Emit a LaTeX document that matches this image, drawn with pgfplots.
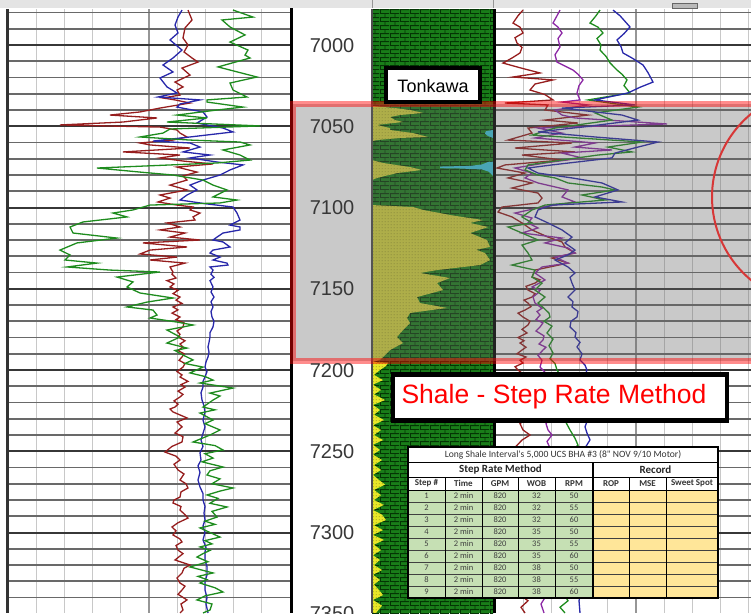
\documentclass[border=0pt]{standalone}
\usepackage{pgfplots}
\pgfplotsset{compat=1.18}
\usetikzlibrary{patterns.meta}
\usepackage{fontspec}
\setmainfont{Liberation Sans}
\newfontfamily\tablefont{Carlito}

\definecolor{gridlight}{RGB}{200,200,200}
\definecolor{gridmid}{RGB}{150,150,150}
\definecolor{griddark}{RGB}{105,105,105}
\definecolor{gridbold}{RGB}{55,55,55}
\definecolor{topband}{RGB}{228,228,228}
\definecolor{lithogreen}{RGB}{25,125,25}
\definecolor{brickline}{RGB}{4,52,4}
\definecolor{sandyellow}{RGB}{214,214,60}
\definecolor{sanddot}{RGB}{150,150,35}
\definecolor{sandbright}{RGB}{232,232,40}
\definecolor{limecyan}{RGB}{60,200,225}
\definecolor{logred}{RGB}{150,30,30}
\definecolor{logblue}{RGB}{40,40,170}
\definecolor{loggreen}{RGB}{30,140,30}
\definecolor{logpurple}{RGB}{140,40,165}
\definecolor{depthtext}{RGB}{55,55,55}
\definecolor{cellgreen}{RGB}{198,224,180}
\definecolor{cellyellow}{RGB}{255,230,153}
\definecolor{ringred}{RGB}{215,55,55}
\definecolor{shadegray}{RGB}{100,100,100}

% shale: green bricks; sand: dotted yellow
\tikzdeclarepattern{
  name=lithobricks,
  type=uncolored,
  bounding box={(0pt,0pt) and (10pt,8.4pt)},
  tile size={(10pt,8.4pt)},
  code={
    \draw[line width=1pt] (0pt,0.5pt) -- (10pt,0.5pt);
    \draw[line width=1pt] (0pt,4.7pt) -- (10pt,4.7pt);
    \draw[line width=0.9pt] (0.5pt,0.5pt) -- (0.5pt,4.7pt);
    \draw[line width=0.9pt] (5.5pt,4.7pt) -- (5.5pt,8.4pt);
  }
}
\tikzdeclarepattern{
  name=sanddots,
  type=uncolored,
  bounding box={(0pt,0pt) and (3pt,2.8pt)},
  tile size={(3pt,2.8pt)},
  code={\fill (1.5pt,1.4pt) circle [radius=0.6pt];}
}

\begin{document}
\begin{tikzpicture}[x=1pt,y=-1pt]
\useasboundingbox (0,0) rectangle (751,613);
\clip (0,0) rectangle (751,613);

% header strip
\fill[topband] (0,0) rectangle (751,8);
\draw[gridmid, line width=1pt] (372,0) -- (372,8);
\draw[gridmid, line width=1pt] (493,0) -- (493,8);
\filldraw[fill=gray!55, draw=gray!80!black, line width=0.6pt] (672,3) rectangle (697,8.5);

% track grids
\foreach \i in {1,...,9}{
  \pgfmathsetmacro{\xl}{8+28.2*\i}
  \pgfmathsetmacro{\xr}{495+28.2*\i}
  \ifnum\i=5 \def\vc{gridmid}\else \def\vc{gridlight}\fi
  \draw[color=\vc, line width=1.3pt] (\xl,9) -- (\xl,613);
  \draw[color=\vc, line width=1.3pt] (\xr,9) -- (\xr,613);
}
\foreach \dep in {6980,6990,...,7340}{
  \pgfmathsetmacro{\yy}{45+(\dep-7000)*1.625}
  \pgfmathtruncatemacro{\m}{mod(\dep,50)}
  \ifnum\m=0 \def\gc{gridbold}\def\gw{2pt}\else \def\gc{griddark}\def\gw{1.6pt}\fi
  \draw[color=\gc, line width=\gw] (8,\yy) -- (290,\yy);
  \draw[color=\gc, line width=\gw] (495,\yy) -- (751,\yy);
}

% lithology column background (shale)
\fill[lithogreen] (372,9) rectangle (493,613);
\fill[pattern=lithobricks, pattern color=brickline] (372,9) rectangle (493,613);

\begin{axis}[at={(0,0)}, anchor=north west, scale only axis,
  width=751pt, height=613pt, xmin=0, xmax=751,
  ymin=6972.31, ymax=7349.54, y dir=reverse, hide axis, no markers]

% ---- lithology: sand and limestone streaks
\addplot[draw=none, fill=sandyellow, postaction={pattern=sanddots, pattern color=sanddot}] coordinates {
(372,7037.5)(395,7038.8)(410,7040.0)(423,7041.8)(400,7043.1)(390,7044.3)(395,7046.2)(403,7047.4)
(385,7048.6)(377,7049.2)(390,7051.1)(390,7052.3)(413,7054.2)(428,7056.6)(400,7057.2)(377,7058.5)(372,7059.1)};
\addplot[draw=none, fill=sandyellow, postaction={pattern=sanddots, pattern color=sanddot}] coordinates {
(372,7070.8)(383,7072.6)(410,7075.1)(422,7076.9)(397,7078.8)(385,7080.6)(377,7081.8)(372,7083.1)};
\addplot[draw=none, fill=sandyellow, postaction={pattern=sanddots, pattern color=sanddot}] coordinates {
(372,7098.5)(413,7099.7)(423,7101.5)(450,7104.6)(462,7105.8)(483,7107.7)(470,7109.5)(488,7112.0)
(470,7115.7)(487,7120.0)(490,7124.3)(476,7126.0)(485,7128.0)(490,7132.3)(480,7135.4)(437,7138.5)
(420,7140.3)(450,7143.4)(437,7146.5)(443,7150.8)(417,7155.1)(420,7158.8)(447,7161.8)(410,7164.9)
(407,7168.0)(410,7171.1)(403,7175.4)(397,7179.7)(403,7183.4)(390,7187.7)(383,7192.0)(380,7193.8)(372,7195.1)};
\addplot[draw=none, fill=sandbright, postaction={pattern=sanddots, pattern color=sanddot}] coordinates {
(372,7195.1)(388,7195.5)(386,7197.5)(380,7200.0)(374,7203.0)(383,7206.2)(373,7209.0)(381,7212.3)
(374,7215.0)(385,7218.5)(373,7221.5)(380,7224.6)(374,7227.5)(384,7230.8)(373,7234.0)(381,7236.9)
(374,7240.0)(383,7243.1)(373,7246.0)(380,7249.2)(373,7252.0)(382,7255.4)(374,7258.5)(381,7261.5)
(373,7264.5)(379,7267.7)(385,7270.5)(374,7273.8)(381,7277.0)(374,7280.0)(384,7283.0)(373,7286.2)
(382,7289.0)(386,7292.3)(374,7295.5)(383,7298.5)(373,7301.5)(384,7304.6)(374,7307.5)(381,7310.8)
(373,7314.0)(380,7316.9)(374,7320.0)(382,7323.1)(373,7326.0)(380,7329.2)(374,7332.0)(379,7335.4)
(383,7338.5)(373,7341.5)(382,7345.0)(376,7349.5)(372,7349.5)};
\addplot[draw=none, fill=limecyan] coordinates {
(440,7074.8)(470,7074.4)(482,7073.5)(488,7072.0)(493,7071.8)(493,7080.6)(489,7078.0)(482,7076.6)(460,7076.0)(440,7075.8)};
\addplot[draw=none, fill=limecyan] coordinates {
(486,7053.0)(493,7052.3)(493,7057.2)(488,7056.0)(485,7054.5)};

% ---- left track
\addplot[color=logred, line width=1.3pt] coordinates {
(188,6978.5)(192,6984.6)(185,6989.5)(183,6995.7)(188,7000)(184,7004.3)(192,7008.0)(198,7010.5)
(182,7014.2)(190,7018.5)(175,7022.8)(183,7025.8)(177,7027.7)(180,7030.8)(163,7032.6)(175,7033.8)
(190,7035.7)(160,7038.8)(140,7041.2)(110,7043.1)(157,7044.9)(123,7047.4)(60,7049.2)(160,7050.5)
(177,7052.3)(180,7054.2)(187,7056.6)(173,7058.5)(140,7060.3)(150,7061.5)(190,7063.4)(123,7065.8)
(180,7067.7)(160,7069.5)(183,7071.4)(213,7073.2)(177,7075.1)(197,7078.2)(183,7080.6)(187,7083.1)
(170,7086.2)(187,7089.2)(160,7092.3)(170,7094.2)(158,7096.6)(177,7098.5)(193,7099.7)(190,7101.5)
(200,7103.4)(193,7105.8)(195,7107.7)(167,7109.5)(180,7112.0)(160,7113.8)(185,7115.7)(170,7118.2)
(200,7120.0)(143,7121.8)(187,7124.3)(150,7126.2)(140,7128.6)(177,7130.5)(150,7132.3)(185,7134.2)
(170,7136.6)(173,7139.7)(172,7141)(176,7143.4)(167,7145)(174,7147)(170,7148.9)(178,7151)(173,7153)
(180,7155.1)(176,7157)(182,7159)(173,7161.2)(178,7163)(172,7165)(180,7167.4)(176,7169)(184,7171)
(183,7173.5)(177,7176)(180,7178)(178,7179.7)(185,7182)(180,7184)(183,7185.8)(178,7188)(184,7190)
(182,7192)(179,7194)(185,7196)(183,7198.2)(177,7201)(182,7203)(180,7204.3)(188,7207)(181,7209)
(185,7210.5)(178,7213)(183,7215)(180,7216.6)(174,7219)(178,7221)(175,7222.8)(170,7224)(173,7225.8)
(187,7229.5)(177,7232)(182,7235)(175,7238.8)(183,7241)(182,7244.3)(172,7247)(165,7250.5)(176,7253)
(180,7255.4)(174,7258)(178,7261.5)(184,7264)(180,7267.7)(186,7270)(188,7272.6)(181,7275)(180,7278.2)
(174,7280)(173,7281.8)(181,7284)(180,7286.2)(185,7289)(188,7291.1)(178,7294)(172,7296.6)(176,7299)
(173,7301.5)(180,7304)(182,7305.8)(176,7308)(178,7310.8)(183,7313)(175,7316.9)(190,7320.0)(184,7322)
(182,7324.9)(177,7328)(180,7331.1)(185,7333)(182,7335.4)(178,7338)(187,7341.5)(181,7344)(183,7347.7)(180,7349.5)};
\addplot[color=logblue, line width=1.3pt] coordinates {
(182,6978.5)(178,6982.8)(175,6987.7)(178,6992.6)(170,6996.9)(176,7000)(182,7003.1)(173,7008.0)
(163,7012.3)(173,7016.6)(160,7020.3)(167,7025.8)(177,7029.5)(158,7032.0)(200,7033.8)(180,7036.3)
(177,7038.2)(203,7041.2)(207,7044.3)(197,7048.0)(223,7051.1)(233,7053.5)(190,7056.6)(153,7059.1)
(190,7060.3)(200,7062.8)(183,7065.8)(210,7067.7)(190,7069.5)(217,7072.0)(243,7073.8)(230,7076.9)
(220,7080.0)(203,7083.1)(190,7086.2)(197,7089.2)(187,7092.3)(180,7095.4)(207,7097.8)(233,7099.7)
(237,7103.4)(240,7107.7)(230,7110.8)(240,7112.0)(240,7113.8)(223,7115.7)(217,7118.2)(213,7120.0)
(223,7121.2)(230,7124.3)(213,7126.2)(210,7128.0)(220,7130.5)(213,7132.3)(227,7134.2)(228,7135.4)
(210,7136.6)(213,7138.5)(211,7141)(214,7143)(210,7145)(213,7148.9)(211,7152)(214,7155.1)(211,7158)
(213,7161.2)(211,7164)(212,7167.4)(214,7170)(213,7173.5)(210,7177)(210,7179.7)(209,7183)(208,7185.8)
(209,7189)(208,7192.0)(206,7195)(205,7198.2)(207,7201)(205,7204.3)(203,7207)(203,7210.5)(201,7214)
(202,7218.5)(204,7222)(205,7226)(203,7230.8)(205,7235)(203,7239)(201,7243.1)(203,7247)(200,7251)
(201,7255.4)(198,7259)(200,7263)(198,7267.7)(200,7272)(203,7276)(203,7280.0)(205,7284)(204,7288)
(205,7292.3)(203,7296)(205,7300)(203,7304.6)(206,7309)(205,7312)(205,7316.9)(207,7321)(207,7326.2)
(205,7330)(205,7335.4)(207,7340)(206,7344)(208,7349.5)};
\addplot[color=loggreen, line width=1.3pt] coordinates {
(233,6978.5)(253,6982.8)(222,6984.6)(230,6988.9)(245,6993.8)(230,6998.2)(248,7003.1)(245,7006.2)
(250,7008.0)(218,7013.5)(257,7019.7)(230,7023.4)(233,7027.7)(247,7032.0)(207,7033.8)(207,7035.1)
(243,7038.2)(217,7040.0)(177,7043.1)(207,7044.9)(167,7047.4)(260,7049.8)(170,7051.7)(163,7054.2)
(140,7056.6)(190,7058.5)(240,7059.7)(250,7061.5)(223,7064.6)(240,7067.7)(250,7070.8)(217,7072.6)
(97,7075.7)(140,7078.2)(173,7080.0)(203,7083.1)(213,7086.2)(227,7089.2)(213,7093.5)(237,7095.4)
(220,7097.2)(150,7098.5)(133,7101.5)(113,7103.4)(127,7105.8)(83,7108.9)(70,7112.0)(73,7115.7)
(117,7118.8)(77,7121.8)(60,7126.2)(70,7129.2)(65,7132.3)(97,7134.2)(67,7136.6)(110,7138.5)
(160,7139.7)(117,7142.8)(133,7145.8)(127,7148.9)(140,7152.6)(173,7155.7)(147,7158.2)(127,7161.2)
(153,7163.1)(157,7166.2)(150,7168)(177,7170.5)(193,7172.3)(167,7175.4)(180,7179.7)(167,7183.4)
(187,7186.5)(175,7188)(183,7190.8)(193,7193.8)(185,7196)(203,7198.2)(190,7201.8)(205,7204)
(213,7206.2)(200,7208)(233,7211.1)(210,7214.2)(220,7216)(213,7218.5)(203,7222.8)(215,7224.5)
(200,7226.5)(213,7230.8)(205,7233)(220,7236.9)(210,7240)(193,7244.3)(215,7246.5)(223,7249.2)
(205,7251.5)(213,7254.2)(202,7256.5)(223,7259.7)(210,7262)(207,7264.6)(220,7267)(212,7270)
(233,7272.6)(220,7274.5)(207,7276.9)(218,7279)(210,7282)(227,7284.3)(212,7287)(217,7290.5)
(205,7293)(215,7295)(200,7297.2)(220,7302.8)(205,7305)(212,7307)(200,7308.9)(210,7311)(203,7313)
(197,7315.1)(208,7318)(190,7321.2)(213,7324.9)(198,7327)(207,7329)(200,7331.1)(215,7334)(223,7336.6)
(205,7339)(197,7341.5)(212,7344)(210,7347.7)(203,7349.5)};

% ---- right track
\addplot[color=logred, line width=1.3pt] coordinates {
(523,6978.5)(518,6982)(513,6986.5)(520,6989)(523,6992.6)(515,6995.5)(517,6998.8)(522,7001.5)
(520,7004.9)(512,7008)(503,7011.1)(520,7014)(540,7017.2)(513,7019.7)(553,7021.5)(535,7024)
(530,7027.7)(545,7030.5)(553,7033.8)(505,7035.7)(548,7036.9)(545,7040.0)(588,7043.1)(545,7046.2)
(578,7048.0)(528,7051.1)(532,7054.2)(508,7058.5)(572,7060.3)(515,7063.4)(575,7065.8)(522,7067.7)
(562,7070.8)(505,7073.8)(497,7075.7)(525,7078.8)(508,7081.8)(532,7084.9)(512,7088.0)(538,7091.1)
(542,7094.2)(538,7097.2)(502,7099.7)(498,7102.8)(512,7105.8)(522,7109.5)(532,7113.8)(548,7118.2)
(562,7121.2)(565,7124.3)(575,7128.0)(552,7131.1)(568,7134.2)(535,7138.5)(532,7142.8)(540,7144.5)
(535,7146.5)(526,7148.5)(528,7150.8)(535,7153)(532,7155.1)(524,7157)(528,7158.8)(531,7161)
(525,7163.1)(518,7165)(523,7167.4)(530,7170)(528,7172.3)(522,7175)(527,7177.2)(518,7180)(524,7182)
(520,7183.4)(526,7186)(522,7187.7)(517,7190)(526,7192.0)(520,7194)(523,7195.7)(515,7198)(518,7200.0)
(527,7204.3)(520,7208)(525,7210)(522,7212.3)(528,7215)(525,7218.5)(518,7222)(520,7226.5)(526,7230)
(520,7233)(523,7236.9)(530,7240)(522,7243.1)(516,7247)(525,7250)(520,7254)(528,7258)(522,7262)
(518,7266)(526,7270)(521,7274)(527,7278)(519,7282)(524,7286)(517,7290)(526,7294)(520,7298)(528,7302)
(522,7306)(518,7310)(525,7314)(520,7318)(527,7322)(523,7326)(516,7330)(524,7334)(519,7338)(528,7342)
(521,7346)(525,7349.5)};
\addplot[color=logpurple, line width=1.3pt] coordinates {
(560,6978.5)(557,6982)(553,6986.5)(558,6989)(562,6992.6)(558,6996)(560,7001.2)(555,7006)(557,7010.5)
(573,7015.4)(578,7018)(583,7021.5)(579,7025)(577,7029.5)(580,7033.8)(562,7035.1)(588,7036.9)
(555,7040.0)(562,7043.1)(575,7044.9)(667,7048.6)(538,7051.1)(562,7054.2)(535,7057.2)(595,7060.3)
(575,7062.8)(612,7064.6)(562,7066.5)(582,7069.5)(545,7072.6)(515,7075.7)(532,7078.8)(525,7081.8)
(538,7084.9)(568,7089.2)(562,7093.5)(575,7096.6)(542,7099.7)(515,7103.4)(532,7106.5)(528,7109.5)
(538,7112.6)(522,7115.7)(562,7118.8)(545,7121.8)(568,7124.9)(575,7128.0)(555,7130.5)(568,7134.2)
(542,7136.6)(535,7140.3)(545,7144.6)(532,7148.9)(540,7151)(538,7152.6)(533,7155)(535,7158.8)
(542,7162)(537,7164)(540,7166.2)(536,7169)(543,7171)(540,7173.5)(536,7176)(544,7179)(543,7181.5)
(539,7184)(546,7186)(543,7187.7)(538,7191)(542,7194)(540,7198.2)(546,7202)(545,7206.2)(540,7210)
(546,7214)(543,7218.5)(548,7222)(544,7226)(550,7230)(546,7233)(548,7236.9)(552,7240)(547,7244)
(550,7248)(545,7252)(548,7256)(542,7260)(547,7264)(544,7268)(549,7272)(543,7276)(546,7280)(541,7284)
(547,7288)(543,7292)(540,7296)(546,7300)(542,7304)(547,7308)(541,7312)(545,7316)(540,7320)(546,7324)
(542,7328)(544,7332)(539,7336)(545,7340)(541,7344)(544,7349.5)};
\addplot[color=loggreen, line width=1.3pt] coordinates {
(600,6978.5)(596,6982)(590,6986.5)(598,6989)(603,6992.6)(597,6996)(601,7000)(600,7003.1)(606,7007)
(610,7011)(617,7015.4)(622,7018)(627,7021.5)(624,7025)(630,7029.5)(588,7033.8)(638,7038.2)
(595,7041.8)(612,7046.2)(555,7051.1)(532,7055.4)(642,7059.7)(608,7062.8)(632,7065.8)(598,7067.7)
(562,7070.8)(528,7073.8)(525,7076.9)(538,7080.0)(555,7081.8)(568,7084.9)(602,7087.4)(615,7089.2)
(582,7092.3)(605,7095.4)(545,7098.5)(532,7101.5)(522,7105.8)(532,7109.5)(508,7112.0)(522,7115.7)
(538,7120.0)(522,7123.1)(528,7128.0)(532,7132.3)(512,7135.4)(535,7138.5)(532,7142.8)(542,7146.5)
(535,7150.8)(545,7155.1)(538,7158.8)(544,7162)(549,7165)(550,7167.4)(544,7170)(552,7173)(547,7177.2)
(553,7181)(549,7185)(553,7189.5)(550,7193)(555,7196)(557,7200.0)(562,7205)(558,7210)(565,7215)
(562,7220)(568,7225)(564,7230)(570,7236.9)(575,7242)(578,7246.2)(572,7250)(568,7254)(574,7258)
(566,7262)(571,7266)(563,7270)(568,7274)(573,7278)(565,7282)(570,7286)(562,7290)(568,7294)(574,7298)
(566,7302)(560,7306)(567,7310)(572,7314)(564,7318)(569,7322)(561,7326)(566,7330)(558,7334)(564,7338)
(568,7342)(560,7346)(565,7349.5)};
\addplot[color=logblue, line width=1.3pt] coordinates {
(613,6978.5)(620,6982)(630,6988.9)(624,6993)(617,6996.9)(621,7001)(623,7004.9)(632,7008)(643,7012.3)
(648,7017)(653,7022.8)(640,7026)(628,7029.5)(595,7033.8)(635,7036.9)(562,7038.8)(622,7043.1)
(638,7046.2)(582,7050.5)(538,7053.5)(595,7056.6)(658,7059.7)(638,7062.8)(615,7066.5)(612,7069.5)
(552,7073.8)(528,7075.7)(538,7078.8)(572,7081.8)(602,7084.9)(618,7089.2)(595,7093.5)(622,7096.6)
(552,7098.5)(538,7101.5)(535,7105.8)(548,7109.5)(562,7113.8)(572,7118.2)(565,7121.8)(575,7126.2)
(568,7129.2)(555,7132.3)(568,7136.6)(575,7140.3)(570,7143)(572,7146.5)(575,7150.8)(568,7155.1)
(573,7158)(572,7161.2)(578,7164)(577,7167.4)(571,7170)(570,7173.5)(576,7177)(575,7179.7)(580,7183)
(577,7185.8)(582,7190)(580,7193.8)(585,7197)(587,7200.0)(584,7205)(588,7210)(585,7215)(589,7220)
(586,7225)(588,7230)(585,7235)(587,7238.8)(590,7243)(586,7247)(588,7252)(584,7258)(587,7264)
(583,7270)(586,7276)(582,7282)(585,7288)(581,7294)(584,7300)(580,7306)(583,7312)(579,7318)(582,7324)
(578,7330)(581,7336)(579,7342)(580,7349.5)};
\end{axis}

% track borders
\draw[black!80, line width=3pt] (7.5,9) -- (7.5,613);
\draw[black, line width=3pt] (291.5,8) -- (291.5,613);
\draw[black!70, line width=1.2pt] (372,9) -- (372,613);
\draw[black, line width=3pt] (494,9) -- (494,613);

% highlighted interval
\fill[shadegray, opacity=0.35] (293,103.5) rectangle (800,360.5);
\draw[red, opacity=0.45, line width=6pt] (293,103.5) rectangle (800,360.5);

% depth labels
\foreach \dep in {7000,7050,...,7350}{
  \pgfmathsetmacro{\yy}{45+(\dep-7000)*1.625+7}
  \node[text=depthtext, anchor=base, inner sep=0pt, font=\fontsize{20}{24}\selectfont] at (332,\yy) {\dep};
}

% formation top
\filldraw[fill=white, draw=black, line width=4pt] (386.3,68) rectangle (479.7,102);
\node[anchor=base, inner sep=0pt, font=\fontsize{18}{22}\selectfont] at (433,92) {Tonkawa};

% sweet-spot ring
\draw[ringred, line width=2pt] (820,197) circle [radius=108];

% caption box
\filldraw[fill=white, draw=black, line width=4.5pt] (393,374.5) rectangle (727,420.5);
\node[anchor=base, inner sep=0pt, text=red, font=\fontsize{26.5}{30}\selectfont] at (554,403) {Shale - Step Rate Method};

% step rate table
\fill[white] (408,447) rectangle (718,490);
\fill[cellgreen] (408,490) rectangle (593,598);
\fill[cellyellow] (593,490) rectangle (718,598);
\foreach \r in {502,514,...,586}{
  \draw[black!75, line width=0.9pt] (408,\r) -- (718,\r);
}
\draw[black, line width=1pt] (408,462) -- (718,462);
\draw[black, line width=1pt] (408,477) -- (718,477);
\draw[black, line width=1pt] (408,490) -- (718,490);
\foreach \c in {445,482,518,555,629,666}{
  \draw[black, line width=1pt] (\c,477) -- (\c,598);
}
\draw[black, line width=1.2pt] (593,462) -- (593,598);
\draw[black, line width=2pt] (408,447) rectangle (718,598);
\node[text=black!80, font=\tablefont\fontsize{9.6}{11}\selectfont] at (563,454.5) {Long Shale Interval's 5,000 UCS BHA \#3 (8" NOV 9/10 Motor)};
\node[text=black!85, font=\tablefont\bfseries\fontsize{11}{12}\selectfont] at (500.5,469.5) {Step Rate Method};
\node[text=black!85, font=\tablefont\bfseries\fontsize{11}{12}\selectfont] at (655.5,469.5) {Record};
\foreach \x/\t in {426.5/Step \#, 463.5/Time, 500/GPM, 536.5/WOB, 574/RPM, 611/ROP, 647.5/MSE, 692/Sweet Spot}{
  \node[text=black!80, font=\tablefont\bfseries\fontsize{9}{10}\selectfont] at (\x,483.5) {\t};
}
\foreach \i/\w/\rpm in {1/32/50, 2/32/55, 3/32/60, 4/35/50, 5/35/55, 6/35/60, 7/38/50, 8/38/55, 9/38/60}{
  \pgfmathsetmacro{\yy}{496+12*(\i-1)}
  \node[text=black!75, font=\tablefont\fontsize{8.5}{9}\selectfont] at (426.5,\yy) {\i};
  \node[text=black!75, font=\tablefont\fontsize{8.5}{9}\selectfont] at (463.5,\yy) {2 min};
  \node[text=black!75, font=\tablefont\fontsize{8.5}{9}\selectfont] at (500,\yy) {820};
  \node[text=black!75, font=\tablefont\fontsize{8.5}{9}\selectfont] at (536.5,\yy) {\w};
  \node[text=black!75, font=\tablefont\fontsize{8.5}{9}\selectfont] at (574,\yy) {\rpm};
}
\end{tikzpicture}
\end{document}
